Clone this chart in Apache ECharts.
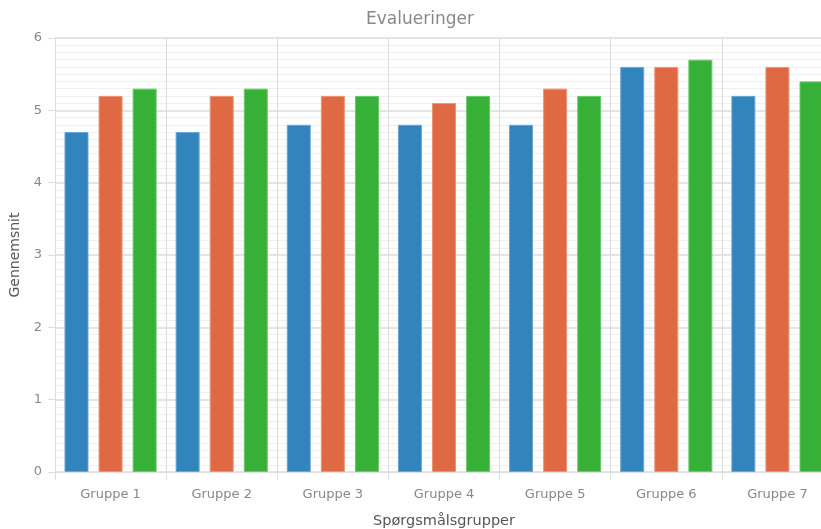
<!DOCTYPE html>
<html>
<head>
<meta charset="utf-8">
<script src="https://cdn.jsdelivr.net/npm/echarts@6/dist/echarts.min.js"></script>
<style>html,body{margin:0;padding:0;background:#fff}#c{width:821px;height:529px}</style>
</head>
<body>
<div id="c"></div>
<script>
const categories = ['Gruppe 1','Gruppe 2','Gruppe 3','Gruppe 4','Gruppe 5','Gruppe 6','Gruppe 7'];
const seriesA = [4.7, 4.7, 4.8, 4.8, 4.8, 5.6, 5.2];
const seriesB = [5.2, 5.2, 5.2, 5.1, 5.3, 5.6, 5.6];
const seriesC = [5.3, 5.3, 5.2, 5.2, 5.2, 5.7, 5.4];
const yTicks = [0, 1, 2, 3, 4, 5, 6];

const font = 'DejaVu Sans, Verdana, sans-serif';
const chart = echarts.init(document.getElementById('c'), null, {renderer: 'canvas'});
function bar(name, data, color, border) {
  return {
    name, type: 'bar', data, barWidth: 24, barGap: '42%',
    itemStyle: {color, borderColor: border, borderWidth: 1},
    emphasis: {disabled: true}, animation: false
  };
}
chart.setOption({
  animation: false,
  title: {
    text: 'Evalueringer', left: 415, textAlign: 'center', top: 6,
    textStyle: {color: '#888', fontSize: 17, fontWeight: 'normal', fontFamily: font}
  },
  grid: {left: 55, top: 38, width: 778, height: 434, containLabel: false, outerBoundsMode: 'none'},
  xAxis: {
    type: 'category', data: categories,
    name: 'Spørgsmålsgrupper', nameLocation: 'middle', nameGap: 42,
    nameTextStyle: {color: '#555', fontSize: 14.5, fontFamily: font},
    axisLine: {show: true, lineStyle: {color: '#ddd', width: 1}},
    axisTick: {show: true, length: 8, lineStyle: {color: '#ddd'}},
    axisLabel: {color: '#888', fontSize: 13, margin: 16, fontFamily: font},
    splitLine: {show: true, lineStyle: {color: '#dcdcdc', width: 1}}
  },
  yAxis: {
    type: 'value', min: yTicks[0], max: yTicks[yTicks.length - 1], interval: 1,
    name: 'Gennemsnit', nameLocation: 'middle', nameGap: 27,
    nameTextStyle: {color: '#555', fontSize: 14, fontFamily: font},
    axisLine: {show: true, lineStyle: {color: '#ddd', width: 1}},
    axisTick: {show: true, length: 7, lineStyle: {color: '#ddd'}},
    axisLabel: {color: '#888', fontSize: 13, margin: 13, fontFamily: font,
      formatter: v => yTicks.includes(v) ? String(v) : ''},
    splitLine: {show: true, lineStyle: {color: '#e4e4e4', width: 2}},
    minorTick: {show: false, splitNumber: 10},
    minorSplitLine: {show: true, lineStyle: {color: '#f0f0f0', width: 1}}
  },
  series: [
    bar('A', seriesA, '#3284bd', '#6aa6d3'),
    bar('B', seriesB, '#df6942', '#ea9478'),
    bar('C', seriesC, '#37b037', '#6cc86c')
  ]
});
</script>
</body>
</html>
